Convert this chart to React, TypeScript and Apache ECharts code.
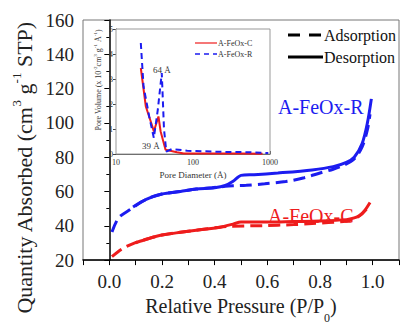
import React, { useEffect, useRef } from "react";
import * as echarts from "echarts";

// Main isotherms (relative pressure P/P0, quantity absorbed cm3/g STP)
const rAdsP = [0.01, 0.035, 0.079, 0.14, 0.2, 0.27, 0.33, 0.39, 0.44, 0.47, 0.52, 0.59, 0.67, 0.74, 0.8, 0.85, 0.89, 0.93, 0.96, 0.98, 0.99];
const rAdsV = [36.4, 44.6, 49.5, 55.4, 58.5, 60, 61.4, 62.2, 63, 63.3, 63.6, 64.5, 65.8, 68, 70.8, 73, 75.3, 79, 86, 96, 105];
const rDesP = [0.995, 0.98, 0.96, 0.93, 0.9, 0.85, 0.77, 0.64, 0.55, 0.5, 0.47, 0.44, 0.4, 0.33, 0.27, 0.2, 0.14, 0.09];
const rDesV = [114, 100, 88, 80, 77, 74.5, 72.6, 70.8, 69.8, 69.4, 66, 63.5, 62.2, 61.4, 60, 58.5, 55.4, 51];

const cAdsP = [0.01, 0.048, 0.097, 0.15, 0.2, 0.27, 0.33, 0.42, 0.46, 0.58, 0.7, 0.77, 0.85, 0.9, 0.93, 0.96, 0.99];
const cAdsV = [22, 26.5, 30.1, 32.6, 34.6, 36.2, 37.4, 39.2, 39.7, 40.1, 40.7, 41.3, 42, 42.8, 44, 47, 52];
const cDesP = [0.99, 0.97, 0.95, 0.93, 0.9, 0.8, 0.7, 0.6, 0.5, 0.47, 0.42, 0.33, 0.27, 0.2, 0.15, 0.1];
const cDesV = [53.6, 49, 46, 44.6, 43.6, 42.8, 42.5, 42.2, 42.2, 41, 39.2, 37.4, 36.2, 34.6, 32.6, 30.1];

// Inset pore size distribution (pore diameter Å, pore volume x10^-2)
const psdCD = [21, 24.4, 29.7, 31, 35.6, 38, 44, 62, 76, 150, 400, 800];
const psdCV = [3.44, 1.9, 1.1, 0.9, 1.5, 0.9, 0.17, 0.07, 0.02, 0.02, 0.02, 0.01];
const psdRD = [21, 22.8, 27, 31, 35, 39.3, 42, 45, 53.6, 84, 204, 550, 950];
const psdRV = [4.44, 2.7, 1.5, 0.64, 1.8, 3.24, 1.0, 0.1, 0.2, 0.13, 0.09, 0.07, 0.04];

const mainXTicks = ["0.0", "0.2", "0.4", "0.6", "0.8", "1.0"];

const BLUE = "#1c1cf0";
const RED = "#ee1c1c";
const SERIF = "Times New Roman, Liberation Serif, DejaVu Serif, serif";

const zip = (a: number[], b: number[]) => a.map((x, i) => [x, b[i]]);

export default function App() {
  const ref = useRef<HTMLDivElement>(null);
  useEffect(() => {
    if (!ref.current) return;
    const chart = echarts.init(ref.current, undefined, { renderer: "svg" });
    const txt = (x: number, y: number, text: string, fontSize: number, fill: string, extra: any = {}) => ({
      type: "text",
      z: 10,
      x,
      y,
      style: { text, fontSize, fontFamily: SERIF, fill, align: "left", verticalAlign: "middle", ...extra },
    });
    chart.setOption({
      animation: false,
      backgroundColor: "#fff",
      textStyle: { fontFamily: SERIF },
      grid: [
        { left: 83, top: 20, width: 318, height: 257, show: true, borderColor: "#777", borderWidth: 1, backgroundColor: "transparent" },
        { left: 116, top: 29, width: 154, height: 125, show: true, borderColor: "#999", borderWidth: 1, backgroundColor: "#fff", z: 5 },
      ],
      xAxis: [
        {
          type: "value",
          gridIndex: 0,
          min: -0.1,
          max: 1.1,
          interval: 0.1,
          splitLine: { show: false },
          axisLine: { lineStyle: { color: "#000", width: 1.5 } },
          axisTick: { length: 5, lineStyle: { color: "#000" } },
          axisLabel: {
            fontSize: 19,
            color: "#222",
            margin: 12,
            fontFamily: SERIF,
            formatter: (v: number) => {
              const k = Math.round(v * 10);
              return k >= 0 && k <= 10 && k % 2 === 0 ? mainXTicks[k / 2] : "";
            },
          },
          name: "Relative Pressure (P/P{sub|0})",
          nameLocation: "middle",
          nameGap: 24,
          nameTextStyle: {
            fontSize: 20,
            color: "#222",
            fontFamily: SERIF,
            rich: { sub: { fontSize: 12, verticalAlign: "bottom", lineHeight: 12, padding: [0, 0, -8, 0], fontFamily: SERIF, color: "#222" } },
          },
        },
        {
          type: "log",
          logBase: 10,
          gridIndex: 1,
          min: 10,
          max: 1000,
          splitLine: { show: false },
          axisLine: { lineStyle: { color: "#444", width: 1 } },
          axisTick: { length: 3, inside: true, lineStyle: { color: "#444" } },
          minorTick: { show: true, splitNumber: 5, length: 2, lineStyle: { color: "#666" } },
          axisLabel: { fontSize: 8, color: "#333", margin: 4, fontFamily: SERIF, formatter: (v: number) => String(Math.round(v)) },
          name: "Pore Diameter (Å)",
          nameLocation: "middle",
          nameGap: 16,
          nameTextStyle: { fontSize: 9, color: "#333", fontFamily: SERIF },
        },
      ],
      yAxis: [
        {
          type: "value",
          gridIndex: 0,
          min: 20,
          max: 160,
          interval: 20,
          splitLine: { show: false },
          axisLine: { show: true, lineStyle: { color: "#000", width: 1.5 } },
          axisTick: { show: true, length: 5, lineStyle: { color: "#000" } },
          minorTick: { show: true, splitNumber: 2, length: 3, lineStyle: { color: "#000" } },
          axisLabel: { fontSize: 19, color: "#222", margin: 9, fontFamily: SERIF },
        },
        {
          type: "value",
          gridIndex: 1,
          min: 0,
          max: 5,
          interval: 1,
          splitLine: { show: false },
          axisLine: { show: true, lineStyle: { color: "#444", width: 1 } },
          axisTick: { show: true, length: 3, lineStyle: { color: "#444" } },
          axisLabel: { fontSize: 8, color: "#333", margin: 3, fontFamily: SERIF },
        },
      ],
      series: [
        { name: "R adsorption", type: "line", xAxisIndex: 0, yAxisIndex: 0, data: zip(rAdsP, rAdsV), showSymbol: false, symbol: "none", smooth: 0.3, lineStyle: { color: BLUE, width: 3, type: [12, 6] } },
        { name: "R desorption", type: "line", xAxisIndex: 0, yAxisIndex: 0, data: zip(rDesP, rDesV), showSymbol: false, symbol: "none", smooth: 0.3, lineStyle: { color: BLUE, width: 3 } },
        { name: "C adsorption", type: "line", xAxisIndex: 0, yAxisIndex: 0, data: zip(cAdsP, cAdsV), showSymbol: false, symbol: "none", smooth: 0.3, lineStyle: { color: RED, width: 3, type: [12, 6] } },
        { name: "C desorption", type: "line", xAxisIndex: 0, yAxisIndex: 0, data: zip(cDesP, cDesV), showSymbol: false, symbol: "none", smooth: 0.3, lineStyle: { color: RED, width: 3 } },
        { name: "A-FeOx-C", type: "line", xAxisIndex: 1, yAxisIndex: 1, z: 6, data: zip(psdCD, psdCV), symbol: "none", lineStyle: { color: RED, width: 2 } },
        { name: "A-FeOx-R", type: "line", xAxisIndex: 1, yAxisIndex: 1, z: 6, data: zip(psdRD, psdRV), symbol: "none", lineStyle: { color: BLUE, width: 2, type: [6, 4] } },
      ],
      graphic: [
        // main legend
        { type: "line", z: 10, shape: { x1: 288, y1: 35, x2: 322, y2: 35 }, style: { stroke: "#000", lineWidth: 3, lineDash: [12, 9] } },
        txt(324, 35, "Adsorption", 16, "#111"),
        { type: "line", z: 10, shape: { x1: 288, y1: 57, x2: 323, y2: 57 }, style: { stroke: "#000", lineWidth: 3 } },
        txt(324, 57, "Desorption", 16, "#111"),
        // inset legend
        { type: "line", z: 10, shape: { x1: 195, y1: 43, x2: 217, y2: 43 }, style: { stroke: RED, lineWidth: 1.2 } },
        txt(218, 43, "A-FeOx-C", 8, "#333"),
        { type: "line", z: 10, shape: { x1: 195, y1: 54, x2: 217, y2: 54 }, style: { stroke: BLUE, lineWidth: 1.5, lineDash: [5, 4] } },
        txt(218, 54, "A-FeOx-R", 8, "#333"),
        // curve labels
        txt(278, 107, "A-FeOx-R", 20, BLUE),
        txt(268, 216, "A-FeOx-C", 20, RED),
        txt(153, 70, "64 Å", 9, "#333"),
        txt(142, 146, "39 Å", 9, "#333"),
        // main y axis title
        {
          type: "text",
          z: 10,
          x: 24,
          y: 168,
          rotation: Math.PI / 2,
          style: {
            text: "Quantity Absorbed (cm{s|3} g{s|-1} STP)",
            fontSize: 22,
            fontFamily: SERIF,
            fill: "#222",
            align: "center",
            verticalAlign: "middle",
            lineHeight: 28,
            rich: { s: { fontSize: 13, verticalAlign: "top", lineHeight: 13, fontFamily: SERIF, fill: "#222" } },
          },
        },
        // inset y axis title
        {
          type: "text",
          z: 10,
          x: 98,
          y: 80,
          rotation: Math.PI / 2,
          style: {
            text: "Pore Volume (x 10{s|-2}cm{s|3} g{s|-1} Å{s|-1})",
            fontSize: 8,
            fontFamily: SERIF,
            fill: "#333",
            align: "center",
            verticalAlign: "middle",
            lineHeight: 10,
            rich: { s: { fontSize: 5, verticalAlign: "top", lineHeight: 5, fontFamily: SERIF, fill: "#333" } },
          },
        },
      ],
    });
    return () => chart.dispose();
  }, []);
  return <div ref={ref} style={{ position: "fixed", left: 0, top: 0, width: 402, height: 329 }} />;
}
